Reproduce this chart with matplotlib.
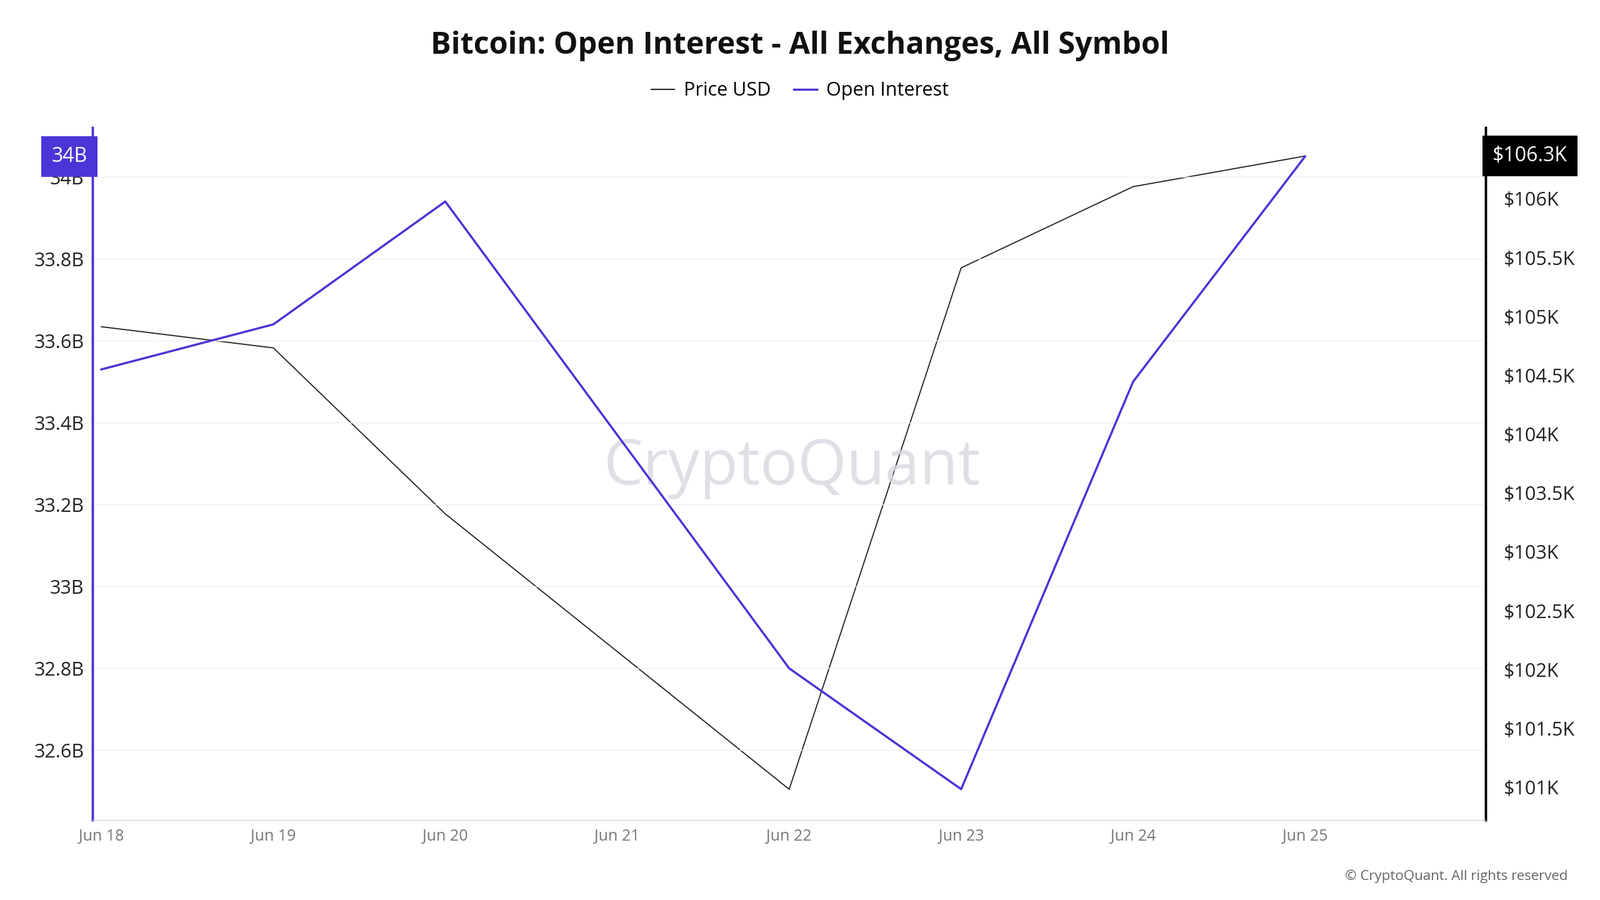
import matplotlib
matplotlib.use("Agg")
import matplotlib.pyplot as plt

dates = ["Jun 18", "Jun 19", "Jun 20", "Jun 21", "Jun 22", "Jun 23", "Jun 24", "Jun 25"]
open_interest_b = [33.53, 33.64, 33.94, 33.37, 32.80, 32.505, 33.50, 34.05]
price_k = [104.91, 104.73, 103.32, 102.15, 100.98, 105.41, 106.10, 106.36]
oi_ticks = [32.6, 32.8, 33.0, 33.2, 33.4, 33.6, 33.8, 34.0]
oi_tick_labels = ["32.6B", "32.8B", "33B", "33.2B", "33.4B", "33.6B", "33.8B", "34B"]
price_ticks = [101, 101.5, 102, 102.5, 103, 103.5, 104, 104.5, 105, 105.5, 106]
price_tick_labels = ["$101K", "$101.5K", "$102K", "$102.5K", "$103K", "$103.5K", "$104K", "$104.5K", "$105K", "$105.5K", "$106K"]

purple = "#4a35d6"
plt.rcParams["font.family"] = "Open Sans"
fig = plt.figure(figsize=(25.6, 14.4), dpi=100)
ax = fig.add_axes([0.058, 0.089, 0.8705, 0.769])
ax2 = ax.twinx()
x = list(range(len(dates)))
ax.plot(x, open_interest_b, color=purple, lw=2.5, zorder=3)
ax2.plot(x, price_k, color="#222222", lw=1.3)
ax.set_zorder(ax2.get_zorder() + 1); ax.patch.set_visible(False)

ax.set_xlim(-0.05, 8.05)
ax.set_ylim(32.43, 34.12)
ax2.set_ylim(100.72, 106.6)
ax.set_xticks(x); ax.set_xticklabels(dates, fontsize=18, color="#777777")
ax.set_yticks(oi_ticks); ax.set_yticklabels(oi_tick_labels, fontsize=22, color="#222222")
ax2.set_yticks(price_ticks); ax2.set_yticklabels(price_tick_labels, fontsize=22, color="#222222")
ax.grid(axis="y", color="#eeeeee", lw=1)
ax.tick_params(axis="both", length=0, pad=10)
ax2.tick_params(axis="y", length=0, pad=20)
for a in (ax, ax2):
    a.spines["top"].set_visible(False)
    a.spines["left"].set_color(purple); a.spines["left"].set_linewidth(2.5)
    a.spines["right"].set_color("black"); a.spines["right"].set_linewidth(2.5)
    a.spines["bottom"].set_color("#cccccc")

ax.text(-0.004, 34.05, "34B", transform=ax.get_yaxis_transform(), ha="right", va="center",
        fontsize=23, color="white", bbox=dict(boxstyle="square,pad=0.5", fc=purple, ec="none"))
ax2.text(1.005, 106.36, "$106.3K", transform=ax2.get_yaxis_transform(), ha="left", va="center",
         fontsize=23, color="white", bbox=dict(boxstyle="square,pad=0.5", fc="black", ec="none"))

fig.text(0.5, 0.949, "Bitcoin: Open Interest - All Exchanges, All Symbol", ha="center", va="center",
         fontsize=35, fontweight="bold", color="#111111")
from matplotlib.lines import Line2D
h = [Line2D([], [], color="#222222", lw=1.5), Line2D([], [], color=purple, lw=2.5)]
fig.legend(h, ["Price USD", "Open Interest"], loc="center", bbox_to_anchor=(0.5, 0.899), ncol=2,
           frameon=False, fontsize=22, handlelength=1.2, columnspacing=1.2, handletextpad=0.5)
fig.text(0.495, 0.48, "CryptoQuant", ha="center", va="center", fontsize=72, color="#d8d8e0", alpha=0.8, zorder=0)
fig.text(0.98, 0.026, "© CryptoQuant. All rights reserved", ha="right", va="center", fontsize=16, color="#666666")
fig.savefig("out.png", dpi=100, facecolor="white")
